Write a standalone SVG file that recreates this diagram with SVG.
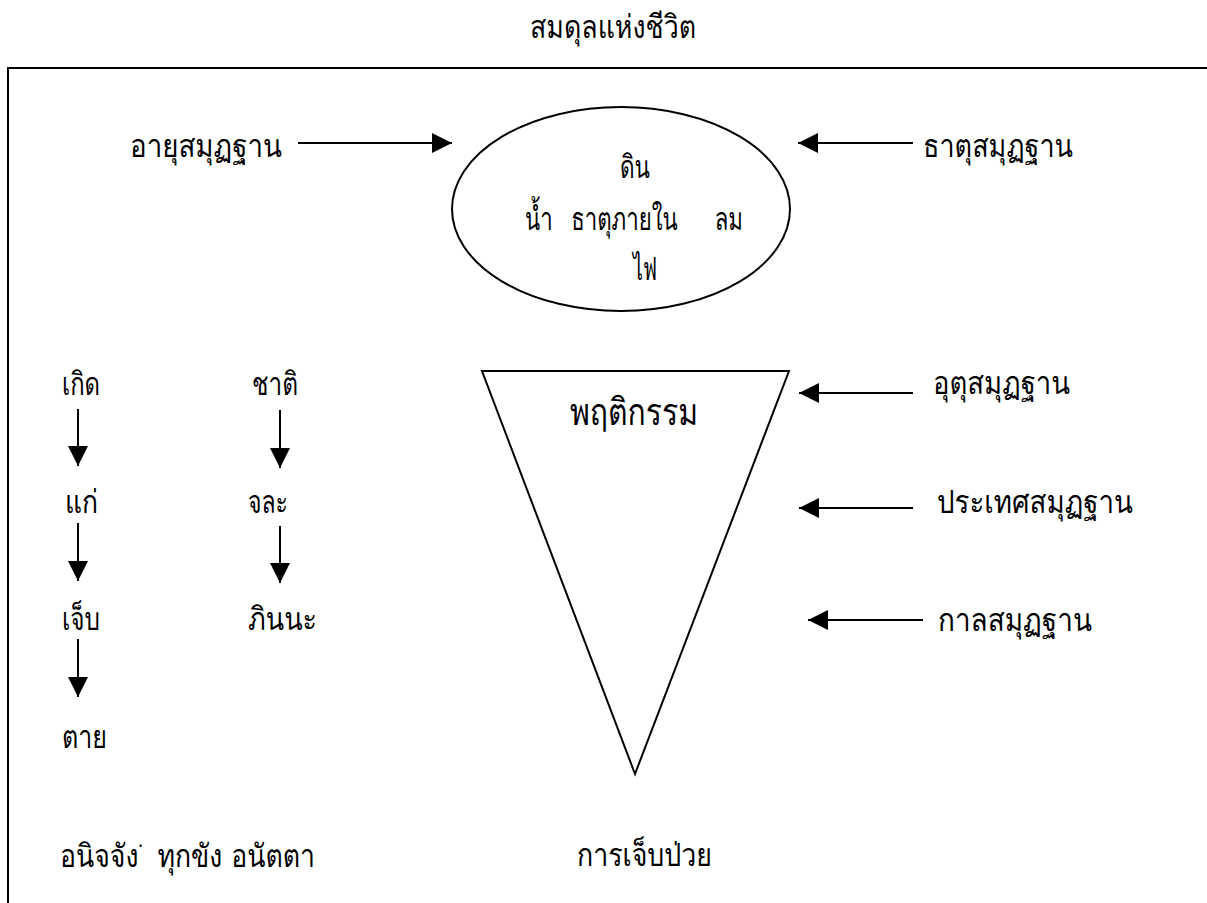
<svg xmlns="http://www.w3.org/2000/svg" width="1207" height="903" viewBox="0 0 1207 903">
<style>
.t{font-family:"Loma","Garuda","Noto Sans Thai Looped","Noto Sans Thai","Noto Sans","DejaVu Sans",sans-serif;font-size:32px;font-weight:300;fill:#000}
.big{font-size:38px}
.s{fill:none;stroke:#000;stroke-width:2}
.c{stroke:#000;stroke-width:2;fill:none}
</style>
<defs>
<marker id="ah" viewBox="0 0 20 20" refX="20" refY="10" markerWidth="20" markerHeight="20" markerUnits="userSpaceOnUse" orient="auto">
<path d="M0,0 L20,10 L0,20 z" fill="#000"/>
</marker>
</defs>
<rect width="1207" height="903" fill="#fff"/>
<g id="title"><text class="t" x="530" y="38" textLength="166" lengthAdjust="spacingAndGlyphs">สมดุลแห่งชีวิต</text></g>
<g id="frame"><path class="s" d="M8,903 V68 H1207"/></g>
<g id="dhatu-inner">
<ellipse class="s" cx="621" cy="209" rx="169" ry="102"/>
<text class="t" x="620" y="178" textLength="30" lengthAdjust="spacingAndGlyphs">ดิน</text>
<text class="t" x="525" y="230" textLength="218" lengthAdjust="spacingAndGlyphs">น้ำ&#160;&#160;&#160;ธาตุภายใน&#160;&#160;&#160;&#160;&#160;&#160;ลม</text>
<text class="t" x="633" y="280" textLength="24" lengthAdjust="spacingAndGlyphs">ไฟ</text>
</g>
<g id="ayu"><text class="t" x="130" y="157" textLength="152" lengthAdjust="spacingAndGlyphs">อายุสมุฏฐาน</text></g>
<g id="dhatu"><text class="t" x="923" y="157" textLength="150" lengthAdjust="spacingAndGlyphs">ธาตุสมุฏฐาน</text></g>
<g id="behavior">
<polygon class="s" points="482,371 789,371 635,774"/>
<text class="t big" x="570" y="425" textLength="128" lengthAdjust="spacingAndGlyphs">พฤติกรรม</text>
</g>
<g id="utu"><text class="t" x="933" y="394" textLength="137" lengthAdjust="spacingAndGlyphs">อุตุสมุฏฐาน</text></g>
<g id="prathet"><text class="t" x="937" y="513" textLength="196" lengthAdjust="spacingAndGlyphs">ประเทศสมุฏฐาน</text></g>
<g id="kala"><text class="t" x="938" y="631" textLength="154" lengthAdjust="spacingAndGlyphs">กาลสมุฏฐาน</text></g>
<g id="koet"><text class="t" x="62" y="395" textLength="38" lengthAdjust="spacingAndGlyphs">เกิด</text></g>
<g id="kae"><text class="t" x="65" y="513" textLength="33" lengthAdjust="spacingAndGlyphs">แก่</text></g>
<g id="chep"><text class="t" x="62" y="630" textLength="38" lengthAdjust="spacingAndGlyphs">เจ็บ</text></g>
<g id="tai"><text class="t" x="62" y="748" textLength="45" lengthAdjust="spacingAndGlyphs">ตาย</text></g>
<g id="chati"><text class="t" x="252" y="395" textLength="46" lengthAdjust="spacingAndGlyphs">ชาติ</text></g>
<g id="chala"><text class="t" x="248" y="513" textLength="40" lengthAdjust="spacingAndGlyphs">จละ</text></g>
<g id="phinna"><text class="t" x="248" y="630" textLength="69" lengthAdjust="spacingAndGlyphs">ภินนะ</text></g>
<g id="anicca"><text class="t" x="60" y="867" textLength="255" lengthAdjust="spacingAndGlyphs">อนิจจัง˙&#160;&#160;ทุกขัง อนัตตา</text></g>
<g id="illness"><text class="t" x="577" y="866" textLength="135" lengthAdjust="spacingAndGlyphs">การเจ็บป่วย</text></g>
<g id="connectors">
<line class="c" x1="298" y1="143" x2="452" y2="143" marker-end="url(#ah)"/>
<line class="c" x1="913" y1="143" x2="798" y2="143" marker-end="url(#ah)"/>
<line class="c" x1="913" y1="393" x2="799" y2="393" marker-end="url(#ah)"/>
<line class="c" x1="913" y1="508" x2="799" y2="508" marker-end="url(#ah)"/>
<line class="c" x1="923" y1="620" x2="808" y2="620" marker-end="url(#ah)"/>
<line class="c" x1="78" y1="409" x2="78" y2="466" marker-end="url(#ah)"/>
<line class="c" x1="78" y1="523" x2="78" y2="581" marker-end="url(#ah)"/>
<line class="c" x1="78" y1="639" x2="78" y2="697" marker-end="url(#ah)"/>
<line class="c" x1="280" y1="410" x2="280" y2="468" marker-end="url(#ah)"/>
<line class="c" x1="280" y1="526" x2="280" y2="583" marker-end="url(#ah)"/>
</g>
</svg>
